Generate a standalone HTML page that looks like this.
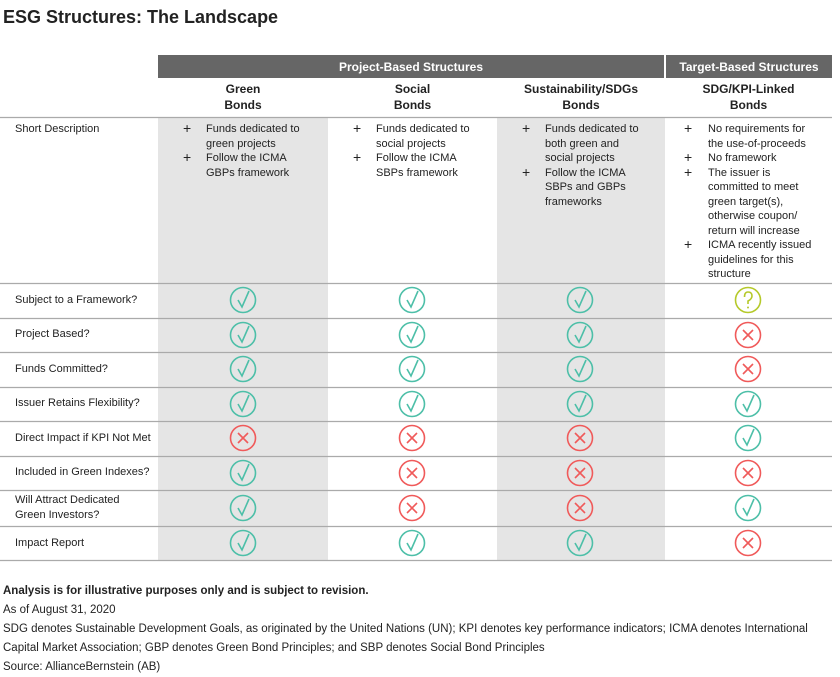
<!DOCTYPE html>
<html><head><meta charset="utf-8"><style>
body{margin:0;width:840px;height:677px;background:#fff;font-family:"Liberation Sans",sans-serif;color:#222;position:relative;overflow:hidden}
.a{position:absolute;white-space:nowrap}
.t{font-size:11px;line-height:14.5px}
.p{font-size:14px;line-height:14.5px}
.h{font-weight:bold;font-size:12px;text-align:center;line-height:16px}
.f{font-size:11.5px;left:3px}
</style></head><body>
<div class="a" style="left:3px;top:7px;font-size:18px;font-weight:bold;color:#222">ESG Structures: The Landscape</div>
<div class="a" style="left:158px;top:55px;width:506px;height:23px;background:#666"></div>
<div class="a" style="left:666px;top:55px;width:166px;height:23px;background:#666"></div>
<div class="a h" style="left:158px;top:59px;width:506px;color:#fff">Project-Based Structures</div>
<div class="a h" style="left:666px;top:59px;width:166px;color:#fff">Target-Based Structures</div>
<div class="a h" style="left:158px;top:81px;width:170px">Green<br>Bonds</div>
<div class="a h" style="left:328px;top:81px;width:169px">Social<br>Bonds</div>
<div class="a h" style="left:497px;top:81px;width:168px">Sustainability/SDGs<br>Bonds</div>
<div class="a h" style="left:665px;top:81px;width:167px">SDG/KPI-Linked<br>Bonds</div>
<div class="a" style="left:158px;top:118px;width:170px;height:442px;background:#e5e5e5"></div>
<div class="a" style="left:497px;top:118px;width:168px;height:442px;background:#e5e5e5"></div>
<svg class="a" style="left:0;top:0" width="840" height="677">
<defs>
<g id="c"><circle r="12.5" fill="none" stroke="#4dbfa8" stroke-width="1.6"/><path d="M-5,0 L-1,7 L6,-9" fill="none" stroke="#4dbfa8" stroke-width="1.6"/></g>
<g id="x"><circle r="12.5" fill="none" stroke="#f05a5a" stroke-width="1.6"/><path d="M-5,-5 L5,5 M5,-5 L-5,5" stroke="#f05a5a" stroke-width="1.6"/></g>
<g id="q"><circle r="12.5" fill="none" stroke="#b5c92a" stroke-width="1.6"/><path d="M-3.5,-3 Q-3.5,-8 0,-8 Q4,-8 4,-4 Q4,-1 0,1 L0,4" fill="none" stroke="#b5c92a" stroke-width="1.6"/><circle cy="7.5" r="1" fill="#b5c92a"/></g>
</defs>
<g stroke="#aaa" stroke-width="1.2">
<line x1="0" x2="832" y1="117.5" y2="117.5"/><line x1="0" x2="832" y1="283.5" y2="283.5"/>
<line x1="0" x2="832" y1="318.5" y2="318.5"/><line x1="0" x2="832" y1="352.5" y2="352.5"/>
<line x1="0" x2="832" y1="387.5" y2="387.5"/><line x1="0" x2="832" y1="421.5" y2="421.5"/>
<line x1="0" x2="832" y1="456.5" y2="456.5"/><line x1="0" x2="832" y1="490.5" y2="490.5"/>
<line x1="0" x2="832" y1="526.5" y2="526.5"/><line x1="0" x2="832" y1="560.5" y2="560.5"/>
</g>
<use href="#c" x="243" y="300"/><use href="#c" x="412" y="300"/><use href="#c" x="580" y="300"/><use href="#q" x="748" y="300"/>
<use href="#c" x="243" y="335"/><use href="#c" x="412" y="335"/><use href="#c" x="580" y="335"/><use href="#x" x="748" y="335"/>
<use href="#c" x="243" y="369"/><use href="#c" x="412" y="369"/><use href="#c" x="580" y="369"/><use href="#x" x="748" y="369"/>
<use href="#c" x="243" y="404"/><use href="#c" x="412" y="404"/><use href="#c" x="580" y="404"/><use href="#c" x="748" y="404"/>
<use href="#x" x="243" y="438"/><use href="#x" x="412" y="438"/><use href="#x" x="580" y="438"/><use href="#c" x="748" y="438"/>
<use href="#c" x="243" y="473"/><use href="#x" x="412" y="473"/><use href="#x" x="580" y="473"/><use href="#x" x="748" y="473"/>
<use href="#c" x="243" y="508"/><use href="#x" x="412" y="508"/><use href="#x" x="580" y="508"/><use href="#c" x="748" y="508"/>
<use href="#c" x="243" y="543"/><use href="#c" x="412" y="543"/><use href="#c" x="580" y="543"/><use href="#x" x="748" y="543"/>
</svg>
<div class="a t" style="left:15px;top:122px">Short Description</div>
<div class="a t" style="left:15px;top:293px">Subject to a Framework?</div>
<div class="a t" style="left:15px;top:327px">Project Based?</div>
<div class="a t" style="left:15px;top:362px">Funds Committed?</div>
<div class="a t" style="left:15px;top:396px">Issuer Retains Flexibility?</div>
<div class="a t" style="left:15px;top:431px">Direct Impact if KPI Not Met</div>
<div class="a t" style="left:15px;top:465px">Included in Green Indexes?</div>
<div class="a t" style="left:15px;top:493px">Will Attract Dedicated<br>Green Investors?</div>
<div class="a t" style="left:15px;top:536px">Impact Report</div>

<div class="a p" style="left:183px;top:121px">+<br><br>+</div>
<div class="a t" style="left:206px;top:122px">Funds dedicated to<br>green projects<br>Follow the ICMA<br>GBPs framework</div>
<div class="a p" style="left:353px;top:121px">+<br><br>+</div>
<div class="a t" style="left:376px;top:122px">Funds dedicated to<br>social projects<br>Follow the ICMA<br>SBPs framework</div>
<div class="a p" style="left:522px;top:121px">+<br><br><br>+</div>
<div class="a t" style="left:545px;top:122px">Funds dedicated to<br>both green and<br>social projects<br>Follow the ICMA<br>SBPs and GBPs<br>frameworks</div>
<div class="a p" style="left:684px;top:121px">+<br><br>+<br>+<br><br><br><br><br>+</div>
<div class="a t" style="left:708px;top:122px">No requirements for<br>the use-of-proceeds<br>No framework<br>The issuer is<br>committed to meet<br>green target(s),<br>otherwise coupon/<br>return will increase<br>ICMA recently issued<br>guidelines for this<br>structure</div>

<div class="a f" style="top:585px;font-weight:bold">Analysis is for illustrative purposes only and is subject to revision.</div>
<div class="a f" style="top:604px">As of August 31, 2020</div>
<div class="a f" style="top:623px">SDG denotes Sustainable Development Goals, as originated by the United Nations (UN); KPI denotes key performance indicators; ICMA denotes International</div>
<div class="a f" style="top:642px">Capital Market Association; GBP denotes Green Bond Principles; and SBP denotes Social Bond Principles</div>
<div class="a f" style="top:661px">Source: AllianceBernstein (AB)</div>
</body></html>
